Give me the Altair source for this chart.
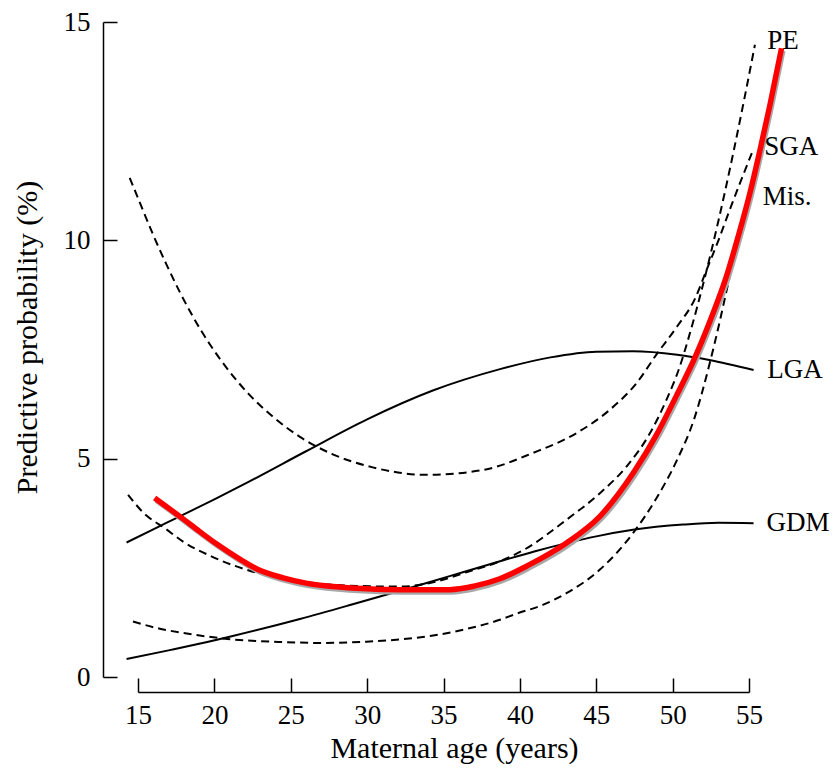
import altair as alt
import pandas as pd

x_ticks = [15, 20, 25, 30, 35, 40, 45, 50, 55]
y_ticks = [0, 5, 10, 15]

lga_age = [14.25, 16.0, 17.5, 20.0, 22.3, 26.0, 30.0, 34.3, 38.7, 42.0, 45.0, 47.4, 50.3, 52.4, 55.3]
lga_val = [3.08, 3.38, 3.64, 4.07, 4.48, 5.17, 5.90, 6.56, 7.05, 7.32, 7.45, 7.46, 7.38, 7.26, 7.03]

gdm_age = [14.25, 17.0, 19.0, 21.2, 25.6, 29.0, 32.1, 35.4, 38.7, 41.0, 43.0, 45.0, 47.4, 50.7, 53.0, 55.3]
gdm_val = [0.41, 0.61, 0.76, 0.94, 1.33, 1.66, 1.97, 2.31, 2.65, 2.88, 3.06, 3.22, 3.37, 3.49, 3.53, 3.52]

sga_age = [14.46, 15.1, 16.0, 16.86, 17.73, 18.6, 19.7, 20.8, 22.3, 23.8, 25.6, 27.75, 30.37, 33.91,
           37.57, 40.85, 43.73, 45.89, 47.66, 48.97, 50.28, 51.46, 52.22, 53.0, 53.74, 55.3]
sga_val = [11.43, 10.88, 10.12, 9.45, 8.82, 8.25, 7.62, 7.08, 6.46, 5.97, 5.50, 5.10, 4.80, 4.63,
           4.74, 5.13, 5.59, 6.12, 6.74, 7.40, 8.02, 8.66, 9.32, 10.0, 10.7, 12.1]

pe_age = [14.35, 15.33, 16.86, 17.95, 19.7, 21.22, 22.75, 24.5, 27.77, 32.14, 34.32, 36.5, 38.69,
          40.2, 43.05, 45.24, 46.98, 48.51, 49.6, 50.47, 51.13, 52.0, 53.0, 54.0, 54.7, 55.39]
pe_val = [4.17, 3.77, 3.38, 3.10, 2.78, 2.56, 2.39, 2.25, 2.11, 2.07, 2.17, 2.40, 2.65,
          2.90, 3.60, 4.21, 4.82, 5.58, 6.35, 7.11, 7.87, 9.0, 10.45, 12.05, 13.25, 14.48]

mis_age = [14.67, 16.5, 17.95, 19.04, 21.2, 24.5, 27.0, 29.96, 32.14, 34.32, 36.5, 38.69, 39.78,
           41.5, 43.05, 45.24, 47.42, 48.95, 50.26, 51.4, 52.44, 53.09, 53.5, 54.3, 55.0]
mis_val = [1.27, 1.10, 1.01, 0.95, 0.86, 0.80, 0.78, 0.81, 0.86, 0.95, 1.10, 1.31, 1.45,
           1.65, 1.92, 2.46, 3.30, 4.10, 4.95, 5.90, 7.20, 8.15, 8.80, 10.0, 11.0]

red_age = [16.09, 17.95, 19.04, 20.13, 21.66, 22.75, 24.5, 26.0, 27.77, 30.0, 32.14, 35.41, 37.0,
           38.69, 40.5, 43.05, 45.24, 47.42, 48.95, 50.26, 51.5, 52.5, 53.5, 54.3, 55.0, 55.71,
           56.37, 57.13]
red_val = [4.10, 3.62, 3.33, 3.05, 2.70, 2.48, 2.27, 2.15, 2.07, 2.02, 2.00, 2.00, 2.08,
           2.25, 2.55, 3.07, 3.68, 4.67, 5.55, 6.45, 7.35, 8.20, 9.15, 10.1, 11.0, 12.05,
           13.1, 14.4]

label_text = ["PE", "SGA", "Mis.", "LGA", "GDM"]
label_age = [56.2, 56.0, 55.9, 56.2, 56.15]
label_val = [14.56, 12.14, 10.99, 7.03, 3.53]


def long(curves):
    rows = []
    for name, ages, vals in curves:
        for a, v in zip(ages, vals):
            rows.append({"curve": name, "age": a, "value": v})
    return pd.DataFrame(rows)


df_solid = long([("LGA", lga_age, lga_val), ("GDM", gdm_age, gdm_val)])
df_dashed = long([("SGA", sga_age, sga_val), ("PE", pe_age, pe_val), ("Mis.", mis_age, mis_val)])
df_red = pd.DataFrame({"age": red_age, "value": red_val})
df_labels = pd.DataFrame({"label": label_text, "age": label_age, "value": label_val})

FONT = "Liberation Serif"
xscale = alt.Scale(domain=[15, 55], nice=False, zero=False)
yscale = alt.Scale(domain=[0, 15], nice=False, zero=False)

x_ticks_axis = alt.Axis(orient="bottom", values=x_ticks, offset=1, tickSize=14, tickWidth=1.5,
                        tickColor="black", domain=False, labels=False, title=None, grid=False)
y_ticks_axis = alt.Axis(orient="left", values=y_ticks, offset=21, tickSize=14, tickWidth=1.5,
                        tickColor="black", domain=False, labels=False, title=None, grid=False)
x_main_axis = alt.Axis(orient="bottom", values=x_ticks, offset=15, ticks=False, tickSize=0,
                       domain=True, domainColor="black", domainWidth=1.5, labelPadding=10,
                       labelFlush=False, labelOverlap=False,
                       labelFont=FONT, labelFontSize=27, labelColor="black",
                       title="Maternal age (years)", titleFont=FONT, titleFontSize=30,
                       titleFontWeight="normal", titleColor="black", titlePadding=5,
                       titleX=316, grid=False)
y_main_axis = alt.Axis(orient="left", values=y_ticks, offset=35, ticks=False, tickSize=0,
                       domain=True, domainColor="black", domainWidth=1.5, labelPadding=13,
                       labelFlush=False, labelOverlap=False,
                       labelFont=FONT, labelFontSize=27, labelColor="black",
                       title="Predictive probability (%)", titleFont=FONT, titleFontSize=30,
                       titleFontWeight="normal", titleColor="black", titlePadding=21,
                       titleY=315, grid=False)

solid = alt.Chart(df_solid).mark_line(color="black", strokeWidth=2, interpolate="monotone").encode(
    x=alt.X("age:Q", scale=xscale, axis=x_ticks_axis),
    y=alt.Y("value:Q", scale=yscale, axis=y_ticks_axis),
    detail="curve:N",
)

dashed = alt.Chart(df_dashed).mark_line(color="black", strokeWidth=2, strokeDash=[8, 5],
                                        interpolate="monotone").encode(
    x=alt.X("age:Q", scale=xscale, axis=None),
    y=alt.Y("value:Q", scale=yscale, axis=None),
    detail="curve:N",
)

shadow = alt.Chart(df_red).mark_line(color="#a8a8a8", strokeWidth=5, interpolate="monotone",
                                     xOffset=1.5, yOffset=2.5).encode(
    x=alt.X("age:Q", scale=xscale, axis=None),
    y=alt.Y("value:Q", scale=yscale, axis=None),
)

red = alt.Chart(df_red).mark_line(color="#ff0000", strokeWidth=5.5, interpolate="monotone").encode(
    x=alt.X("age:Q", scale=xscale, axis=None),
    y=alt.Y("value:Q", scale=yscale, axis=None),
)

labels = alt.Chart(df_labels).mark_text(align="left", baseline="middle", font=FONT, fontSize=27,
                                        color="black").encode(
    x=alt.X("age:Q", scale=xscale, axis=x_main_axis),
    y=alt.Y("value:Q", scale=yscale, axis=y_main_axis),
    text="label:N",
)

chart = alt.layer(solid, dashed, shadow, red, labels).resolve_axis(
    x="independent", y="independent"
).properties(
    width=611, height=655,
    autosize=alt.AutoSizeParams(type="none"),
    padding={"left": 130, "top": 14, "right": 83, "bottom": 90},
    background="white",
).configure(
    font=FONT
).configure_axis(
    labelFont=FONT, titleFont=FONT, labelFontSize=27, labelFlush=False,
    titleFontWeight="normal", labelColor="black", titleColor="black"
).configure_text(
    font=FONT
).configure_view(stroke=None)

chart.save("out.html", embed_options={"renderer": "svg", "actions": False})
